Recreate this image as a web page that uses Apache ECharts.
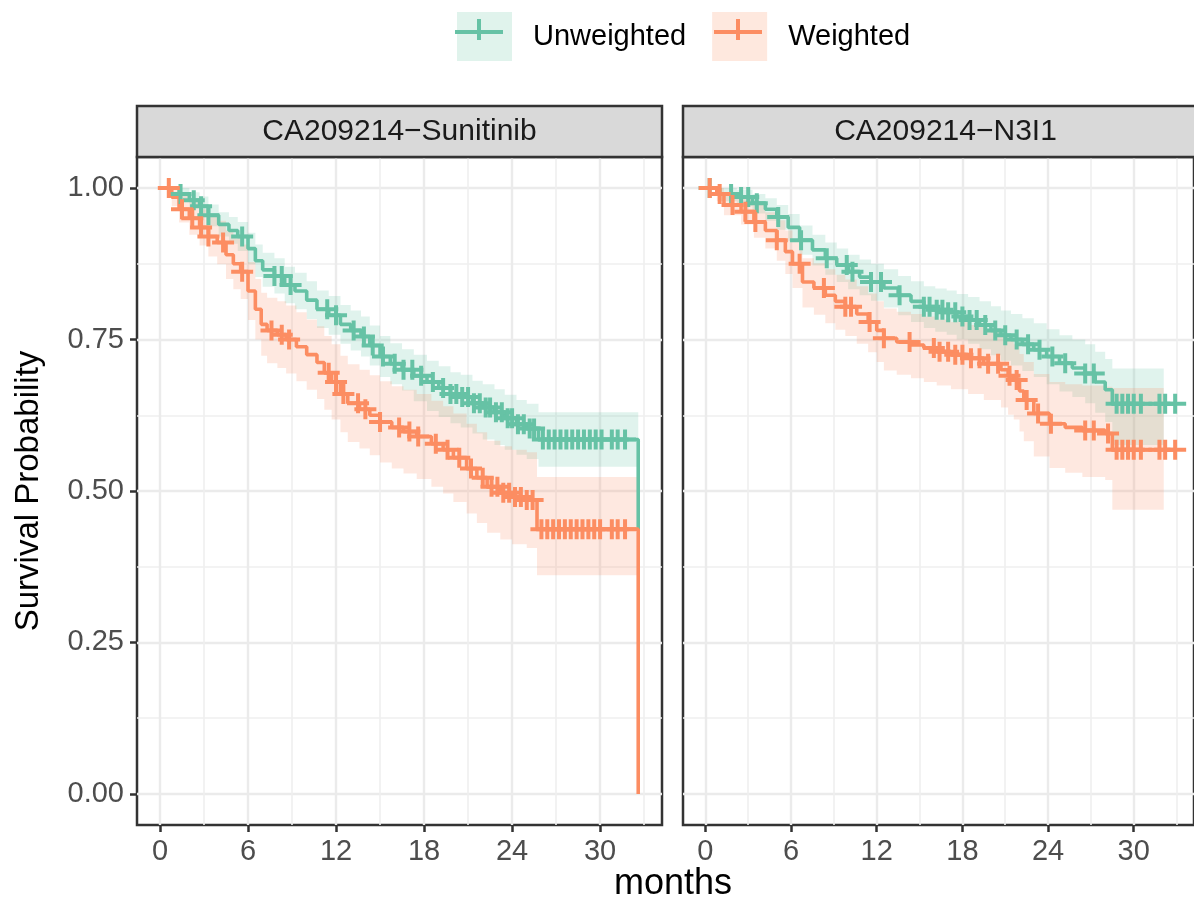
<!DOCTYPE html>
<html>
<head>
<meta charset="utf-8">
<script src="https://cdn.jsdelivr.net/npm/echarts@6/dist/echarts.min.js"></script>
<style>
html,body{margin:0;padding:0;background:#fff;}
#chart{width:1194px;height:899px;}
</style>
</head>
<body>
<div id="chart"></div>
<script>
// ---------- data ----------
const panels = ['CA209214\u2212Sunitinib', 'CA209214\u2212N3I1'];
const groups = ['Unweighted', 'Weighted'];
const xTicks = [0, 6, 12, 18, 24, 30];
const xMinorTicks = [3, 9, 15, 21, 27, 33];
const yTicks = [0, 0.25, 0.5, 0.75, 1];
const yMinorTicks = [0.125, 0.375, 0.625, 0.875];
const yTickLabels = ['0.00', '0.25', '0.50', '0.75', '1.00'];

// Sunitinib - Unweighted
const sunUnwTime  = [0, 1.3, 2.0, 2.7, 3.3, 4.0, 4.7, 5.3, 6.0, 6.5, 7.0, 7.8, 8.5, 9.2, 10.0, 10.7, 11.5, 12.3, 13.0, 13.7, 14.3, 15.0, 15.7, 16.5, 17.3, 18.2, 19.0, 19.8, 20.5, 21.3, 22.0, 22.8, 23.5, 24.3, 25.0, 25.8, 32.6];
const sunUnwSurv  = [1, 0.99, 0.98, 0.97, 0.955, 0.94, 0.93, 0.92, 0.90, 0.88, 0.865, 0.855, 0.84, 0.83, 0.815, 0.80, 0.79, 0.775, 0.765, 0.755, 0.74, 0.722, 0.71, 0.70, 0.69, 0.68, 0.67, 0.66, 0.655, 0.645, 0.638, 0.63, 0.62, 0.61, 0.603, 0.585, 0.436];
const sunUnwUpper = [1, 1.0, 0.993, 0.986, 0.973, 0.96, 0.952, 0.944, 0.926, 0.907, 0.893, 0.884, 0.87, 0.86, 0.846, 0.831, 0.822, 0.807, 0.798, 0.788, 0.773, 0.756, 0.744, 0.734, 0.725, 0.715, 0.706, 0.696, 0.692, 0.682, 0.676, 0.668, 0.659, 0.65, 0.644, 0.63, 0.63];
const sunUnwLower = [1, 0.98, 0.967, 0.954, 0.937, 0.92, 0.908, 0.896, 0.874, 0.853, 0.837, 0.826, 0.81, 0.80, 0.784, 0.769, 0.758, 0.743, 0.732, 0.722, 0.707, 0.688, 0.676, 0.666, 0.648, 0.632, 0.622, 0.612, 0.605, 0.595, 0.585, 0.576, 0.568, 0.56, 0.553, 0.54, 0.54];
const sunUnwCensor = [1.4, 2.3, 2.8, 3.3, 5.6, 7.8, 8.3, 8.9, 11.4, 12.0, 13.2, 13.9, 14.5, 15.2, 16.0, 16.6, 17.2, 17.8, 18.6, 19.3, 19.8, 20.2, 20.6, 21.0, 21.4, 21.8, 22.2, 22.5, 22.9, 23.3, 23.7, 24.0, 24.4, 24.8, 25.2, 25.5, 26.1, 26.5, 26.9, 27.3, 27.7, 28.1, 28.5, 28.9, 29.3, 29.7, 30.1, 30.8, 31.2, 31.7];

// Sunitinib - Weighted
const sunWTime  = [0, 0.8, 1.3, 2.0, 2.7, 3.3, 3.9, 4.5, 5.0, 5.5, 6.0, 6.5, 6.9, 7.3, 8.0, 8.6, 9.3, 10.0, 10.7, 11.2, 11.7, 12.3, 12.8, 13.6, 14.3, 15.0, 15.8, 16.6, 17.5, 18.5, 19.3, 20.0, 20.9, 21.6, 22.3, 23.2, 24.0, 25.0, 25.7, 32.6];
const sunWSurv  = [1, 0.985, 0.965, 0.95, 0.935, 0.92, 0.91, 0.89, 0.875, 0.862, 0.83, 0.80, 0.775, 0.765, 0.758, 0.75, 0.738, 0.725, 0.712, 0.695, 0.68, 0.66, 0.645, 0.635, 0.625, 0.614, 0.605, 0.598, 0.59, 0.578, 0.568, 0.555, 0.537, 0.522, 0.507, 0.497, 0.49, 0.485, 0.437, 0];
const sunWUpper = [1, 1.0, 0.987, 0.977, 0.965, 0.953, 0.946, 0.93, 0.917, 0.907, 0.878, 0.85, 0.827, 0.819, 0.813, 0.806, 0.795, 0.783, 0.772, 0.756, 0.742, 0.723, 0.709, 0.70, 0.691, 0.681, 0.673, 0.667, 0.66, 0.649, 0.64, 0.628, 0.611, 0.597, 0.583, 0.574, 0.568, 0.564, 0.523, 0.523];
const sunWLower = [1, 0.97, 0.943, 0.923, 0.905, 0.887, 0.874, 0.85, 0.833, 0.817, 0.782, 0.75, 0.723, 0.711, 0.703, 0.694, 0.681, 0.667, 0.652, 0.634, 0.618, 0.597, 0.581, 0.57, 0.559, 0.547, 0.537, 0.529, 0.52, 0.507, 0.496, 0.482, 0.463, 0.447, 0.431, 0.42, 0.412, 0.406, 0.361, 0.361];
const sunWCensor = [0.6, 1.5, 2.2, 2.8, 3.3, 4.3, 5.6, 7.6, 8.3, 8.8, 11.5, 12.0, 12.5, 13.5, 14.0, 15.0, 16.3, 17.0, 17.6, 18.8, 19.6, 20.4, 21.2, 22.0, 22.6, 23.0, 23.4, 23.8, 24.2, 24.6, 25.0, 25.4, 26.0, 26.4, 26.8, 27.2, 27.6, 28.0, 28.4, 28.8, 29.2, 29.6, 30.0, 30.8, 31.2, 31.7];

// N3I1 - Unweighted
const n3UnwTime  = [0, 1.0, 2.2, 3.3, 4.2, 5.0, 5.8, 6.6, 7.5, 8.4, 9.2, 10.0, 10.8, 11.6, 12.5, 13.5, 14.4, 15.3, 16.1, 16.9, 17.6, 18.4, 19.2, 20.0, 20.7, 21.4, 22.2, 23.0, 23.9, 24.8, 25.7, 26.6, 27.3, 28.0, 28.5, 32.1, 32.9];
const n3UnwSurv  = [1, 0.99, 0.985, 0.975, 0.965, 0.952, 0.935, 0.914, 0.898, 0.884, 0.873, 0.862, 0.853, 0.845, 0.835, 0.823, 0.813, 0.804, 0.799, 0.795, 0.788, 0.782, 0.774, 0.765, 0.757, 0.75, 0.742, 0.733, 0.722, 0.711, 0.703, 0.694, 0.68, 0.667, 0.644, 0.644, 0.644];
const n3UnwUpper = [1, 1.0, 0.997, 0.99, 0.983, 0.972, 0.957, 0.938, 0.923, 0.91, 0.9, 0.89, 0.882, 0.875, 0.866, 0.855, 0.846, 0.838, 0.834, 0.831, 0.825, 0.82, 0.813, 0.805, 0.798, 0.792, 0.785, 0.777, 0.767, 0.757, 0.75, 0.742, 0.73, 0.718, 0.702, 0.702];
const n3UnwLower = [1, 0.978, 0.97, 0.958, 0.946, 0.931, 0.912, 0.89, 0.872, 0.857, 0.845, 0.833, 0.823, 0.814, 0.803, 0.79, 0.779, 0.769, 0.763, 0.758, 0.75, 0.743, 0.734, 0.724, 0.715, 0.707, 0.698, 0.688, 0.676, 0.664, 0.655, 0.645, 0.629, 0.614, 0.576, 0.576];
const n3UnwCensor = [0.3, 1.8, 2.5, 3.0, 3.6, 5.1, 6.7, 8.5, 9.9, 10.3, 11.6, 12.3, 13.6, 15.3, 15.7, 16.2, 16.6, 17.0, 17.5, 18.0, 18.5, 19.0, 19.6, 20.3, 21.0, 21.8, 22.6, 23.4, 24.3, 25.2, 26.6, 27.2, 28.8, 29.2, 29.6, 30.0, 30.5, 31.8, 32.2, 32.9];

// N3I1 - Weighted
const n3WTime  = [0, 0.8, 1.3, 2.5, 3.4, 4.2, 5.0, 5.6, 6.1, 6.8, 7.6, 8.4, 9.1, 9.8, 10.6, 11.4, 12.0, 12.5, 13.4, 14.4, 15.3, 16.2, 17.2, 18.4, 19.5, 20.7, 21.2, 21.6, 22.0, 22.3, 23.0, 24.1, 25.2, 26.4, 28.0, 28.5, 32.1, 32.9];
const n3WSurv  = [1, 0.99, 0.972, 0.961, 0.944, 0.93, 0.914, 0.895, 0.875, 0.845, 0.835, 0.823, 0.813, 0.804, 0.792, 0.779, 0.765, 0.752, 0.746, 0.741, 0.736, 0.73, 0.725, 0.719, 0.71, 0.70, 0.69, 0.683, 0.665, 0.65, 0.628, 0.611, 0.605, 0.60, 0.595, 0.568, 0.568, 0.568];
const n3WUpper = [1, 1.0, 0.99, 0.985, 0.972, 0.96, 0.947, 0.93, 0.912, 0.884, 0.876, 0.866, 0.857, 0.849, 0.838, 0.826, 0.813, 0.801, 0.796, 0.792, 0.788, 0.783, 0.779, 0.774, 0.766, 0.757, 0.748, 0.742, 0.726, 0.713, 0.693, 0.68, 0.676, 0.674, 0.672, 0.67, 0.67];
const n3WLower = [1, 0.978, 0.955, 0.94, 0.918, 0.9, 0.88, 0.858, 0.835, 0.803, 0.791, 0.777, 0.766, 0.756, 0.743, 0.729, 0.713, 0.699, 0.692, 0.686, 0.68, 0.674, 0.668, 0.66, 0.65, 0.638, 0.626, 0.618, 0.598, 0.582, 0.557, 0.538, 0.53, 0.523, 0.518, 0.469, 0.469];
const n3WCensor = [0.3, 1.0, 1.9, 2.8, 3.5, 5.0, 6.6, 8.3, 9.8, 10.2, 11.5, 12.5, 14.3, 16.0, 16.4, 17.0, 17.5, 18.0, 18.6, 19.2, 19.8, 20.5, 21.3, 21.8, 22.5, 23.3, 24.2, 26.6, 27.2, 28.2, 28.8, 29.2, 29.6, 30.0, 30.5, 31.8, 32.2, 32.9];

// ---------- styling / layout ----------
const COLORS = {Unweighted: '#66c2a5', Weighted: '#fc8d62'};
const BAND = {Unweighted: 'rgba(102,194,165,0.2)', Weighted: 'rgba(252,141,98,0.2)'};
const KEYFILL = {Unweighted: '#e0f3ec', Weighted: '#fee8de'};
const FONT = '"Liberation Sans", Arial, Helvetica, sans-serif';
const X_MIN = -1.568, X_MAX = 34.22, Y_MIN = -0.0512, Y_MAX = 1.0512;
const GRID_LEFT = [137, 683], GRID_TOP = 157, GRID_W = 525, GRID_H = 668;
const PLUS = 'path://M9,0 H13 V8 H22 V12 H13 V20 H9 V12 H0 V8 H9 Z';

const curves = [
  {panel: 0, group: 'Unweighted', time: sunUnwTime, surv: sunUnwSurv, upper: sunUnwUpper, lower: sunUnwLower, censor: sunUnwCensor},
  {panel: 0, group: 'Weighted',   time: sunWTime,   surv: sunWSurv,   upper: sunWUpper,   lower: sunWLower,   censor: sunWCensor},
  {panel: 1, group: 'Unweighted', time: n3UnwTime,  surv: n3UnwSurv,  upper: n3UnwUpper,  lower: n3UnwLower,  censor: n3UnwCensor},
  {panel: 1, group: 'Weighted',   time: n3WTime,    surv: n3WSurv,    upper: n3WUpper,    lower: n3WLower,    censor: n3WCensor}
];

function survAt(c, t) {
  let v = c.surv[0];
  for (let i = 0; i < c.time.length; i++) { if (c.time[i] <= t) v = c.surv[i]; }
  return v;
}

const grids = [0, 1].map(i => ({
  left: GRID_LEFT[i], top: GRID_TOP, width: GRID_W, height: GRID_H,
  show: true, backgroundColor: '#ffffff', borderColor: '#333333', borderWidth: 2.5
}));

const xAxes = [];
const yAxes = [];
[0, 1].forEach(i => {
  xAxes.push({
    type: 'value', gridIndex: i, min: X_MIN, max: X_MAX, position: 'bottom',
    axisLine: {show: false, onZero: false},
    axisTick: {show: true, customValues: xTicks, length: 7, lineStyle: {color: '#333333', width: 2.5}},
    axisLabel: {show: true, customValues: xTicks, fontSize: 29, fontFamily: FONT, color: '#4d4d4d', margin: 12},
    splitLine: {show: true, lineStyle: {color: '#ebebeb', width: 2.4}}
  });
  yAxes.push({
    type: 'value', gridIndex: i, min: Y_MIN, max: Y_MAX, position: 'left',
    axisLine: {show: false, onZero: false},
    axisTick: {show: i === 0, customValues: yTicks, length: 7, lineStyle: {color: '#333333', width: 2.5}},
    axisLabel: {show: i === 0, customValues: yTicks, fontSize: 29, fontFamily: FONT, color: '#4d4d4d', margin: 13,
      formatter: v => { const k = yTicks.indexOf(v); return k >= 0 ? yTickLabels[k] : ''; }},
    splitLine: {show: true, lineStyle: {color: '#ebebeb', width: 2.4}},
    name: i === 0 ? 'Survival Probability' : '',
    nameLocation: 'middle', nameRotate: 90, nameGap: 92,
    nameTextStyle: {fontSize: 33, fontFamily: FONT, color: '#000000'}
  });
});
// minor grid lines
[0, 1].forEach(i => {
  xAxes.push({
    type: 'value', gridIndex: i, min: X_MIN, max: X_MAX, position: 'bottom',
    axisLine: {show: false, onZero: false}, axisLabel: {show: false},
    axisTick: {show: false, customValues: xMinorTicks},
    splitLine: {show: true, lineStyle: {color: '#efefef', width: 1.6}}
  });
  yAxes.push({
    type: 'value', gridIndex: i, min: Y_MIN, max: Y_MAX, position: 'left',
    axisLine: {show: false, onZero: false}, axisLabel: {show: false},
    axisTick: {show: false, customValues: yMinorTicks},
    splitLine: {show: true, lineStyle: {color: '#efefef', width: 1.6}}
  });
});

const series = [];
// confidence bands
curves.forEach(c => {
  series.push({
    type: 'custom', name: c.group + ' band', xAxisIndex: c.panel, yAxisIndex: c.panel,
    silent: true, z: 1, data: [[0, 0.5]],
    renderItem: (params, api) => {
      const k = c.lower.length;
      const pts = [];
      for (let i = 0; i < k - 1; i++) {
        pts.push(api.coord([c.time[i], c.upper[i]]));
        pts.push(api.coord([c.time[i + 1], c.upper[i]]));
      }
      for (let i = k - 2; i >= 0; i--) {
        pts.push(api.coord([c.time[i + 1], c.lower[i]]));
        pts.push(api.coord([c.time[i], c.lower[i]]));
      }
      return {type: 'polygon', shape: {points: pts}, style: {fill: BAND[c.group]}};
    }
  });
});
// survival step lines
curves.forEach(c => {
  series.push({
    type: 'line', name: c.group, xAxisIndex: c.panel, yAxisIndex: c.panel,
    step: 'end', showSymbol: false, symbol: 'none', z: 3,
    lineStyle: {color: COLORS[c.group], width: 3.6},
    itemStyle: {color: COLORS[c.group]},
    data: c.time.map((t, i) => [t, c.surv[i]])
  });
});
// censor marks
curves.forEach(c => {
  series.push({
    type: 'scatter', name: c.group, xAxisIndex: c.panel, yAxisIndex: c.panel,
    symbol: PLUS, symbolSize: [22, 20], z: 4, silent: true,
    itemStyle: {color: COLORS[c.group], opacity: 1},
    data: c.censor.map(t => [t, survAt(c, t)])
  });
});

const graphic = [];
// facet strips
[0, 1].forEach(i => {
  graphic.push({
    type: 'rect', z: 10,
    shape: {x: GRID_LEFT[i], y: 106, width: GRID_W, height: 51},
    style: {fill: '#d9d9d9', stroke: '#333333', lineWidth: 2.5}
  });
  graphic.push({
    type: 'text', z: 11,
    style: {x: GRID_LEFT[i] + GRID_W / 2, y: 132, text: panels[i], align: 'center', verticalAlign: 'middle',
      fontSize: 30, fontFamily: FONT, fill: '#1a1a1a'}
  });
});
// legend key glyphs (line + plus)
[[455, 503, 479, 'Unweighted'], [714, 762, 738, 'Weighted']].forEach(k => {
  graphic.push({type: 'line', z: 20, shape: {x1: k[0], y1: 32, x2: k[1], y2: 32}, style: {stroke: COLORS[k[3]], lineWidth: 4}});
  graphic.push({type: 'line', z: 20, shape: {x1: k[2], y1: 19, x2: k[2], y2: 40}, style: {stroke: COLORS[k[3]], lineWidth: 4}});
});
// x axis title
graphic.push({
  type: 'text', z: 10,
  style: {x: 673, y: 884, text: 'months', align: 'center', verticalAlign: 'middle', fontSize: 36, fontFamily: FONT, fill: '#000000'}
});

const chart = echarts.init(document.getElementById('chart'));
chart.setOption({
  animation: false,
  backgroundColor: '#ffffff',
  grid: grids,
  xAxis: xAxes,
  yAxis: yAxes,
  legend: {
    left: 452, top: 7, orient: 'horizontal', selectedMode: false,
    icon: 'rect', itemWidth: 55, itemHeight: 49, itemGap: 26,
    textStyle: {fontSize: 29, fontFamily: FONT, color: '#000000', padding: [0, 0, 0, 16]},
    data: groups.map(g => ({name: g, icon: 'rect', itemStyle: {color: KEYFILL[g], borderWidth: 0}}))
  },
  graphic: graphic,
  series: series
});
</script>
</body>
</html>
